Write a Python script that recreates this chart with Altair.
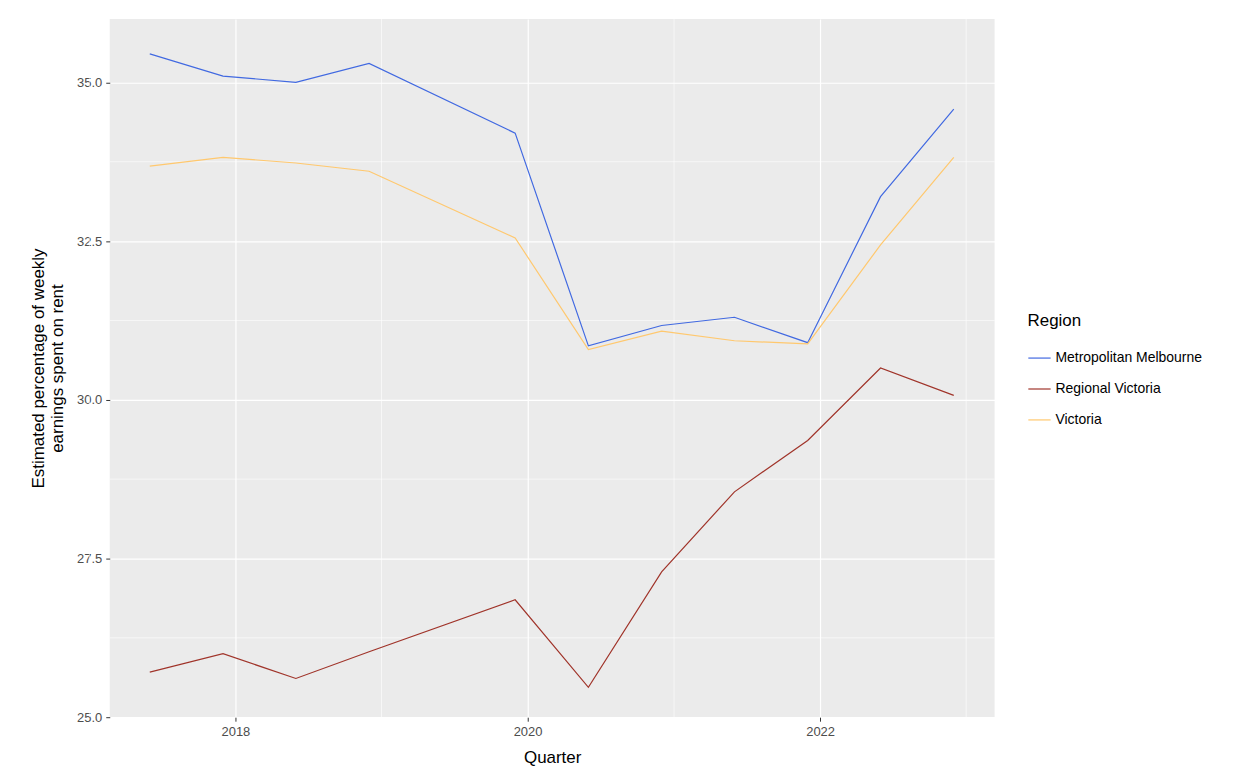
import altair as alt
import pandas as pd

dates = ["2017-06-01","2017-12-01","2018-06-01","2018-12-01","2019-12-01","2020-06-01",
         "2020-12-01","2021-06-01","2021-12-01","2022-06-01","2022-12-01"]
metro = [35.45,35.1,35.0,35.3,34.2,30.85,31.17,31.3,30.9,33.2,34.58]
regional = [25.71,26.0,25.61,26.03,26.85,25.47,27.29,28.55,29.36,30.5,30.07]
victoria = [33.68,33.82,33.73,33.6,32.55,30.79,31.08,30.93,30.88,32.44,33.82]
regions = ["Metropolitan Melbourne","Regional Victoria","Victoria"]
colors = ["#4169e1","#a0342a","#ffc86e"]

rows = []
for name, vals in zip(regions, [metro, regional, victoria]):
    for d, v in zip(dates, vals):
        rows.append({"Quarter": d, "Value": v, "Region": name})
df = pd.DataFrame(rows)

xdom = ["2017-02-21","2023-03-13"]
minor_y = pd.DataFrame({"y":[26.25,28.75,31.25,33.75]})
minor_x = pd.DataFrame({"x":["2017-01-01","2019-01-01","2021-01-01","2023-01-01"]})

xs = alt.Scale(domain=xdom)
ys = alt.Scale(domain=[25,36], nice=False, zero=False)

gy = alt.Chart(minor_y).mark_rule(color="white", strokeWidth=0.6).encode(y=alt.Y("y:Q", scale=ys))
gx = alt.Chart(minor_x).mark_rule(color="white", strokeWidth=0.6).encode(x=alt.X("x:T", scale=xs))

lines = alt.Chart(df).mark_line(strokeWidth=1.2, clip=True).encode(
    x=alt.X("Quarter:T", scale=xs, title="Quarter",
            axis=alt.Axis(values=["2018-01-01","2020-01-01","2022-01-01"], format="%Y")),
    y=alt.Y("Value:Q", scale=ys, title=["Estimated percentage of weekly","earnings spent on rent"],
            axis=alt.Axis(values=[25,27.5,30,32.5,35], format=".1f")),
    color=alt.Color("Region:N", scale=alt.Scale(domain=regions, range=colors),
                    legend=alt.Legend(orient="none", legendX=920, legendY=295, title="Region",
                                      symbolType="stroke", symbolSize=500, symbolStrokeWidth=1.2,
                                      rowPadding=12)),
)

chart = alt.layer(gy, gx, lines).properties(
    width=887, height=700,
    autosize=alt.AutoSizeParams(type="none"),
    padding={"left":102,"top":10,"right":240,"bottom":52},
).configure_view(fill="#ebebeb", stroke=None).configure_axis(
    grid=True, gridColor="white", gridWidth=1.2, domain=False,
    tickColor="#333333", tickSize=4, labelColor="#4d4d4d", labelFontSize=13,
    labelFont="Liberation Sans", titleFont="Liberation Sans", titleFontSize=17,
    titleFontWeight="normal", titleColor="black",
).configure_axisY(titlePadding=10, labelPadding=4).configure_axisX(titlePadding=11, labelPadding=4
).configure_legend(titleFontSize=17, titleFontWeight="normal", titleFont="Liberation Sans",
                   labelFontSize=14, labelFont="Liberation Sans", labelColor="black",
                   titleColor="black", titlePadding=16, labelLimit=300)

chart.save("out.html", embed_options={"renderer": "svg", "actions": False})
